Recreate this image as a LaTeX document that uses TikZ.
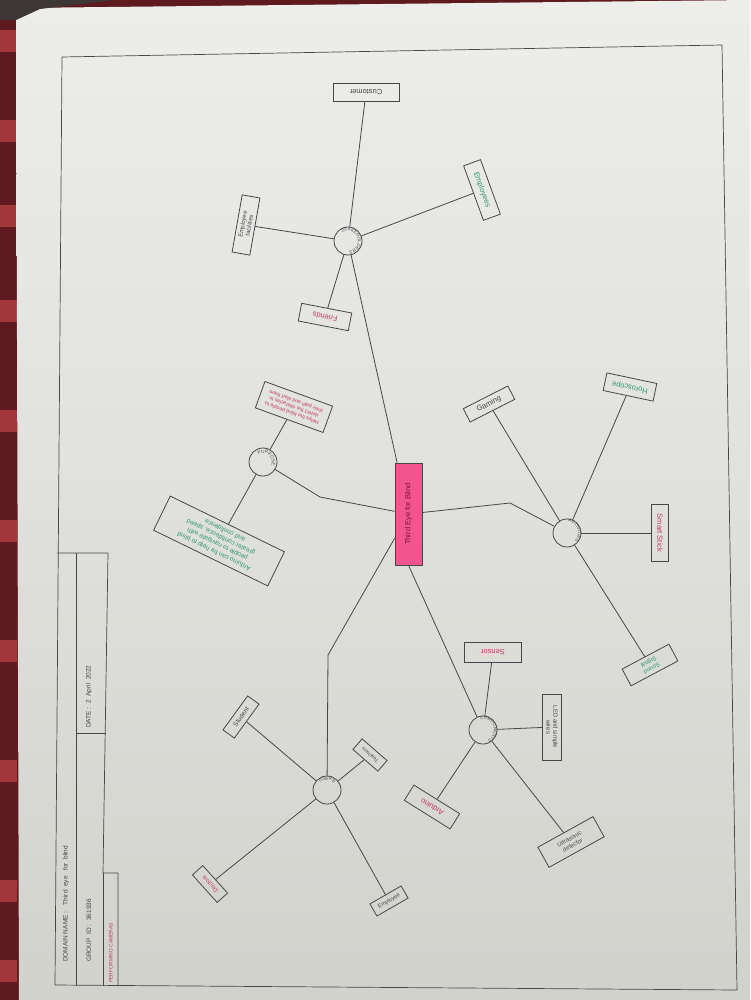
\documentclass[tikz,border=0pt]{standalone}
\usepackage{fontspec}
\setsansfont{Liberation Sans}
\usetikzlibrary{decorations.text}

\definecolor{paperhi}{HTML}{EDEDEA}
\definecolor{papermid}{HTML}{E0E0DC}
\definecolor{paperlo}{HTML}{D2D2CD}
\definecolor{ink}{HTML}{45474A}
\definecolor{inkred}{HTML}{C63A5E}
\definecolor{inkgreen}{HTML}{2E9A72}
\definecolor{hubpink}{HTML}{F2558D}
\definecolor{hubtext}{HTML}{7A1430}
\definecolor{cloth}{HTML}{5E1A1E}
\definecolor{clothlight}{HTML}{A2373C}
\definecolor{shadowcorner}{HTML}{3C3634}

\tikzset{
  link/.style={draw=ink, line width=0.8pt},
  frame/.style={draw=ink, line width=0.7pt},
  leaf/.style={draw=ink, line width=0.8pt, inner sep=1pt, align=center,
    font=\sffamily\fontsize{7.5}{8}\selectfont, text=ink},
  twoline/.style={font=\sffamily\fontsize{6}{6.8}\selectfont},
  redleaf/.style={leaf, text=inkred},
  greenleaf/.style={leaf, text=inkgreen},
  topic/.style={draw=ink, line width=0.8pt, circle, minimum size=28pt, inner sep=0pt},
  hub/.style={draw=ink, fill=hubpink, line width=0.7pt, text=hubtext,
    font=\sffamily\fontsize{7.5}{8}\selectfont, minimum width=102pt,
    minimum height=27pt, inner sep=0pt},
  ringtext/.style={decorate, decoration={text along path, text align=center,
    text color=ink, text={|\sffamily\fontsize{4.5}{5}\selectfont|#1}}},
  blocktext/.style={font=\sffamily\fontsize{6.5}{7}\selectfont, text=ink, inner sep=0pt}
}

\begin{document}
\begin{tikzpicture}[x=1pt, y=-1pt]
\useasboundingbox (0,0) rectangle (750,1000);

% table cloth under the sheet
\fill[cloth] (0,0) rectangle (750,1000);
\foreach \yy in {30,120,205,300,410,520,640,760,880,960}
  \fill[clothlight] (0,\yy) rectangle (17,\yy+22);

% the sheet of paper
\shade[top color=paperhi, bottom color=paperlo, middle color=papermid]
  (16,8) -- (750,0) -- (750,1000) -- (19,1000) -- cycle;
\fill[shadowcorner] (0,0) -- (115,0) -- (40,9) -- (16,20) -- (0,20) -- cycle;

% drawn border of the sheet
\draw[frame] (62,57) -- (722,45) -- (737,990) -- (55,985) -- cycle;

% title block
\draw[frame] (57,553) -- (108,553) -- (103,873) -- (118,873) -- (118,986);
\draw[frame] (76,553) -- (76,985);
\draw[frame] (76,733) -- (106,733);
\draw[frame] (103,873) -- (103,986);
\node[blocktext, rotate=90, anchor=west] (dom) at (66,962) {DOMAIN NAME :\quad Third \ eye \ \ for \ blind};
\node[blocktext, rotate=90, anchor=west] (grp) at (89,962) {GROUP \ ID :\ \ 361936};
\node[blocktext, rotate=90, anchor=west] (dat) at (89,728) {DATE :\ \ 2 \ April \ 2022};
\node[blocktext, rotate=90, anchor=west, text=inkred, font=\sffamily\fontsize{5}{5}\selectfont] (prf) at (111,983) {PERFORMING CAMERAS};

% central topic
\node[hub, rotate=90] (hub) at (408.5,514) {Third Eye for Blind};

% sub-topics
\node[topic] (c1) at (348,241) {};
\node[topic] (c2) at (327,790) {};
\node[topic] (c3) at (567,533) {};
\node[topic] (c4) at (483,730) {};
\node[topic] (c5) at (263,462) {};

\path[ringtext={STAKEHOLDERS}] (348,241) ++(160:10) arc[start angle=160, end angle=520, radius=10];
\path[ringtext={USERS}]        (327,790) ++(200:10) arc[start angle=200, end angle=340, radius=10];
\path[ringtext={ACTIVITIES}]   (567,533) ++(160:11) arc[start angle=160, end angle=520, radius=11];
\path[ringtext={COMPONENTS}]   (483,730) ++(160:11) arc[start angle=160, end angle=520, radius=11];
\path[ringtext={PURPOSE}]      (263,462) ++(170:9)  arc[start angle=170, end angle=450, radius=9];

% bends of the main branches
\coordinate (k1) at (372,350);
\coordinate (k2) at (328,655);
\coordinate (k3) at (510,503);
\coordinate (k5) at (320,497);

\draw[link] (hub) -- (k1) -- (c1);
\draw[link] (hub) -- (k2) -- (c2);
\draw[link] (hub) -- (k3) -- (c3);
\draw[link] (hub.west) -- (c4);
\draw[link] (hub) -- (k5) -- (c5);

% leaves of the first group
\node[leaf, rotate=180, minimum width=66pt, minimum height=18pt] (cust) at (366,92) {Customer};
\node[greenleaf, rotate=-70, minimum width=58pt, minimum height=18pt] (empl) at (482,190) {Employees};
\node[leaf, twoline, rotate=80, minimum width=58pt, minimum height=18pt] (fac) at (246,225) {Employee\\facilities};
\node[redleaf, rotate=169, minimum width=51pt, minimum height=18pt] (frnd) at (325,317) {Friends};
\foreach \n in {cust,empl,fac,frnd} \draw[link] (c1) -- (\n);

% leaves of the purpose group
\node[redleaf, rotate=160, minimum width=72pt, minimum height=28pt,
  font=\sffamily\fontsize{5.2}{6.2}\selectfont] (help) at (294,407)
  {Helps the blind people to\\detect the obstacles in\\their path and alert them};
\node[greenleaf, rotate=154, minimum width=127pt, minimum height=38pt,
  font=\sffamily\fontsize{6.5}{7.8}\selectfont] (ard) at (219,541)
  {Arduino can be help to blind\\people to navigate with\\greater confidence, speed\\and confidence.};
\foreach \n in {help,ard} \draw[link] (c5) -- (\n);

% leaves of the activities group
\node[leaf, rotate=27, minimum width=50pt, minimum height=15pt] (game) at (489,404) {Gaming};
\node[greenleaf, rotate=168, minimum width=51pt, minimum height=18pt] (horo) at (630,387) {Horoscope};
\node[redleaf, rotate=-90, minimum width=57pt, minimum height=17pt] (stick) at (660,533) {Smart Stick};
\node[greenleaf, twoline, rotate=208, minimum width=53pt, minimum height=19pt] (sound) at (650,665) {Sound\\Signal};
\foreach \n in {game,horo,stick,sound} \draw[link] (c3) -- (\n);

% leaves of the components group
\node[redleaf, rotate=180, minimum width=57pt, minimum height=20pt] (sens) at (493,652) {Sensor};
\node[leaf, twoline, rotate=-90, minimum width=66pt, minimum height=19pt] (led) at (552,727) {LED and simple\\wires};
\node[redleaf, rotate=148, minimum width=54pt, minimum height=18pt] (ardn) at (432,807) {Arduino};
\node[leaf, twoline, rotate=29, minimum width=63pt, minimum height=23pt] (ultra) at (571,842) {Ultrasonic\\detector};
\foreach \n in {sens,led,ardn,ultra} \draw[link] (c4) -- (\n);

% leaves of the users group
\node[leaf, rotate=54, minimum width=42pt, minimum height=14pt,
  font=\sffamily\fontsize{6.5}{7}\selectfont] (stud) at (241,717) {Student};
\node[leaf, rotate=139, minimum width=33pt, minimum height=14pt,
  font=\sffamily\fontsize{5}{6}\selectfont] (teach) at (370,755) {Teachers};
\node[redleaf, rotate=132, minimum width=37pt, minimum height=14pt,
  font=\sffamily\fontsize{6}{7}\selectfont] (blnd) at (210,884) {Doctors};
\node[leaf, rotate=30, minimum width=36pt, minimum height=14pt,
  font=\sffamily\fontsize{5.5}{6}\selectfont] (emp2) at (389,901) {Employee};
\foreach \n in {stud,teach,blnd,emp2} \draw[link] (c2) -- (\n);

\end{tikzpicture}
\end{document}
